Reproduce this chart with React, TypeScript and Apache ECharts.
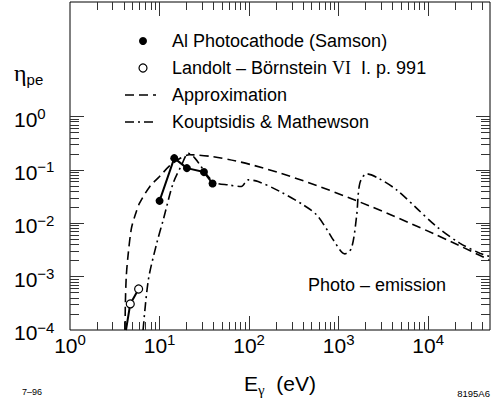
import React, { useEffect, useRef } from 'react';
import * as echarts from 'echarts';

// ---- data ----
const samsonE = [10, 14.6, 20.2, 31.3, 39.1];
const samsonEta = [0.0263, 0.166, 0.108, 0.091, 0.0556];

const landoltE = [4.22, 4.71, 5.84];
const landoltEta = [1e-4, 3.08e-4, 5.87e-4];

const approxE = [4.12, 4.15, 4.25, 4.45, 4.85, 5.4, 6.0, 7.8, 10, 13, 17, 21.5, 48000];
const approxEta = [1e-4, 3e-4, 1e-3, 2.5e-3, 8e-3, 0.015, 0.024, 0.049, 0.075, 0.12, 0.165, 0.192, 0.00205];

const koupE = [6.55, 7.5, 9.3, 11, 14.2, 17.7, 20.9, 24.8, 39.7, 60, 82, 97, 126, 221, 402, 567, 764, 869, 1170, 1390, 1585, 1725, 2050, 2760, 4430, 7410, 12400, 22500, 37700, 48000];
const koupEta = [1e-4, 8.7e-4, 4.2e-3, 0.0116, 0.0565, 0.125, 0.205, 0.166, 0.0605, 0.052, 0.0488, 0.065, 0.0605, 0.0394, 0.0221, 0.0144, 0.007, 0.0049, 0.00267, 0.0034, 0.0134, 0.0565, 0.0845, 0.0702, 0.0424, 0.0192, 0.00867, 0.00424, 0.00275, 0.0024];

const xMin = 1;
const xMax = 49000;
const yMin = 1e-4;
const yMax = 140;
const yLabelMax = 1;

// tick positions (minor 2..9 per decade, major at decades)
const xMinorTicks = [
  2, 3, 4, 5, 6, 7, 8, 9,
  20, 30, 40, 50, 60, 70, 80, 90,
  200, 300, 400, 500, 600, 700, 800, 900,
  2000, 3000, 4000, 5000, 6000, 7000, 8000, 9000,
  20000, 30000, 40000,
];
const xMajorTicks = [10, 100, 1000, 10000];
const yMinorTicks = [
  0.0002, 0.0003, 0.0004, 0.0005, 0.0006, 0.0007, 0.0008, 0.0009,
  0.002, 0.003, 0.004, 0.005, 0.006, 0.007, 0.008, 0.009,
  0.02, 0.03, 0.04, 0.05, 0.06, 0.07, 0.08, 0.09,
  0.2, 0.3, 0.4, 0.5, 0.6, 0.7, 0.8, 0.9,
];
const yMajorTicks = [0.001, 0.01, 0.1, 1];

const legendNames = [
  'Al Photocathode (Samson)',
  'Landolt – Börnstein VI  I. p. 991',
  'Approximation',
  'Kouptsidis & Mathewson',
];
const xAxisTitle = 'E';
const xAxisTitleSub = 'γ';
const xAxisUnit = '  (eV)';
const yAxisTitle = 'η';
const yAxisTitleSub = 'pe';
const regionLabel = 'Photo – emission';
const dateLabel = '7–96';
const figLabel = '8195A6';

const SANS = '"Liberation Sans", Arial, Helvetica, sans-serif';
const SERIF = '"Liberation Serif", "Times New Roman", serif';
const TICK_COLOR = '#333';

const isDecade = (v: number) => {
  const lg = Math.log10(v);
  return Math.abs(lg - Math.round(lg)) < 1e-6;
};

const powLabel = (v: number, limit: number) => {
  if (!isDecade(v) || v > limit * 1.0001) return '';
  const e = Math.round(Math.log10(v));
  const es = e < 0 ? '−' + Math.abs(e) : String(e);
  return '{b|10}{e|' + es + '}';
};

const labelRich = {
  b: { fontSize: 21, fontFamily: SANS, color: '#000', lineHeight: 21, padding: [5, 0, 0, 0] },
  e: { fontSize: 15, fontFamily: SANS, color: '#000', lineHeight: 15, verticalAlign: 'top' },
};

// an extra axis that only draws inward ticks at given values
function tickAxis(kind: 'x' | 'y', position: string, values: number[], length: number) {
  return {
    type: 'log',
    position,
    min: kind === 'x' ? xMin : yMin,
    max: kind === 'x' ? xMax : yMax,
    axisLine: { show: false },
    splitLine: { show: false },
    axisLabel: { show: false },
    axisTick: {
      show: true,
      inside: true,
      length,
      customValues: values,
      lineStyle: { color: TICK_COLOR, width: 1 },
    },
  };
}

export default function App() {
  const ref = useRef<HTMLDivElement>(null);
  useEffect(() => {
    document.body.style.margin = '0';
    if (!ref.current) return;
    const chart = echarts.init(ref.current, null, { renderer: 'svg' });

    const legendX = 172;
    const legendY = [41, 68, 95, 122];
    const textStyle = (text: string, extra: any = {}) => ({
      text,
      fill: '#000',
      fontSize: 18,
      fontFamily: SANS,
      verticalAlign: 'middle',
      textVerticalAlign: 'middle',
      ...extra,
    });

    chart.setOption({
      animation: false,
      grid: { left: 70, right: 3, top: 2, bottom: 78, show: true, borderColor: '#000', borderWidth: 1 },
      xAxis: [
        {
          type: 'log',
          position: 'bottom',
          min: xMin,
          max: xMax,
          axisLine: { show: false },
          splitLine: { show: false },
          axisTick: {
            show: true,
            inside: true,
            length: 14,
            customValues: xMajorTicks,
            lineStyle: { color: TICK_COLOR, width: 1 },
          },
          axisLabel: {
            formatter: (v: number) => powLabel(v, xMax),
            rich: labelRich,
            margin: 2,
            showMaxLabel: false,
          },
          name: '{a|' + xAxisTitle + '}{s|' + xAxisTitleSub + '}{a|' + xAxisUnit + '}',
          nameLocation: 'middle',
          nameGap: 46,
          nameTextStyle: {
            rich: {
              a: { fontSize: 21, fontFamily: SANS, color: '#000', lineHeight: 21, padding: [0, 0, 6, 0] },
              s: { fontSize: 15, fontFamily: SERIF, color: '#000', lineHeight: 15, verticalAlign: 'bottom' },
            },
          },
        },
        tickAxis('x', 'bottom', xMinorTicks, 8),
        tickAxis('x', 'top', xMajorTicks, 14),
        tickAxis('x', 'top', xMinorTicks, 8),
      ],
      yAxis: [
        {
          type: 'log',
          position: 'left',
          min: yMin,
          max: yMax,
          axisLine: { show: false },
          splitLine: { show: false },
          axisTick: {
            show: true,
            inside: true,
            length: 14,
            customValues: yMajorTicks,
            lineStyle: { color: TICK_COLOR, width: 1 },
          },
          axisLabel: {
            formatter: (v: number) => powLabel(v, yLabelMax),
            rich: labelRich,
            align: 'left',
            margin: 56,
            showMaxLabel: false,
          },
        },
        tickAxis('y', 'left', yMinorTicks, 9),
        tickAxis('y', 'right', yMajorTicks, 14),
        tickAxis('y', 'right', yMinorTicks, 9),
      ],
      series: [
        {
          type: 'line',
          name: legendNames[2],
          data: approxE.map((e, i) => [e, approxEta[i]]),
          symbol: 'none',
          smooth: 0.3,
          lineStyle: { color: '#000', width: 1.6, type: [9, 5] },
          z: 3,
        },
        {
          type: 'line',
          name: legendNames[3],
          data: koupE.map((e, i) => [e, koupEta[i]]),
          symbol: 'none',
          smooth: 0.3,
          lineStyle: { color: '#000', width: 1.6, type: [9, 4, 2, 4] },
          z: 3,
        },
        {
          type: 'line',
          name: legendNames[0],
          data: samsonE.map((e, i) => [e, samsonEta[i]]),
          symbol: 'circle',
          symbolSize: 8,
          itemStyle: { color: '#000' },
          lineStyle: { color: '#000', width: 2 },
          z: 5,
        },
        {
          type: 'line',
          name: legendNames[1],
          data: landoltE.map((e, i) => (i === 0 ? { value: [e, landoltEta[i]], symbol: 'none' } : [e, landoltEta[i]])),
          symbol: 'circle',
          symbolSize: 8,
          itemStyle: { color: '#fff', borderColor: '#000', borderWidth: 1.2 },
          lineStyle: { color: '#000', width: 2 },
          z: 5,
        },
      ],
      graphic: [
        { type: 'circle', shape: { cx: 143, cy: legendY[0], r: 4 }, style: { fill: '#000' } },
        { type: 'text', x: legendX, y: legendY[0], style: textStyle(legendNames[0]) },
        { type: 'circle', shape: { cx: 143, cy: legendY[1], r: 4 }, style: { fill: '#fff', stroke: '#000', lineWidth: 1.2 } },
        {
          type: 'text', x: legendX, y: legendY[1],
          style: textStyle('{a|Landolt – Börnstein }{v|VI}{a|  I. p. 991}', {
            rich: {
              a: { fontSize: 18, fontFamily: SANS, fill: '#000' },
              v: { fontSize: 18, fontFamily: SERIF, fill: '#000' },
            },
          }),
        },
        { type: 'line', shape: { x1: 125, y1: legendY[2], x2: 156, y2: legendY[2] }, style: { stroke: '#000', lineWidth: 1.6, lineDash: [9, 5] } },
        { type: 'text', x: legendX, y: legendY[2], style: textStyle(legendNames[2]) },
        { type: 'line', shape: { x1: 125, y1: legendY[3], x2: 156, y2: legendY[3] }, style: { stroke: '#000', lineWidth: 1.6, lineDash: [9, 4, 2, 4] } },
        { type: 'text', x: legendX, y: legendY[3], style: textStyle(legendNames[3]) },
        { type: 'text', x: 308, y: 285, style: textStyle(regionLabel) },
        {
          type: 'text', x: 14, y: 75,
          style: textStyle('{e|' + yAxisTitle + '}{s|' + yAxisTitleSub + '}', {
            rich: {
              e: { fontSize: 24, fontFamily: SERIF, fill: '#000', lineHeight: 24, padding: [0, 0, 5, 0] },
              s: { fontSize: 15, fontFamily: SANS, fill: '#000', lineHeight: 15, verticalAlign: 'bottom' },
            },
          }),
        },
        { type: 'text', x: 22, y: 392, style: textStyle(dateLabel, { fontSize: 9 }) },
        { type: 'text', x: 490, y: 393, style: textStyle(figLabel, { fontSize: 9.5, align: 'right', textAlign: 'right' }) },
      ],
    });

    return () => chart.dispose();
  }, []);
  return <div ref={ref} style={{ width: 493, height: 408 }} />;
}
